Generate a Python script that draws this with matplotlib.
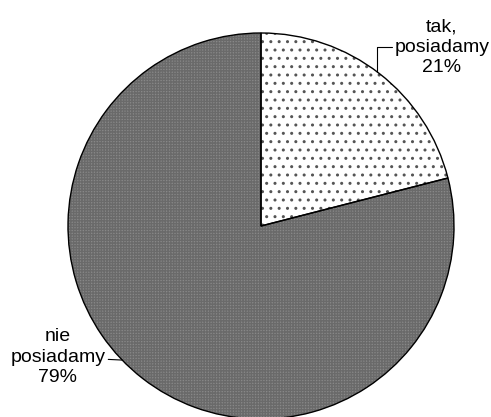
import matplotlib.pyplot as plt
import numpy as np

labels = ['tak,\nposiadamy\n21%', 'nie\nposiadamy\n79%']
values = [21, 79]

plt.rcParams['font.family'] = ['Liberation Sans', 'DejaVu Sans']

fig = plt.figure(figsize=(4.91, 4.17), dpi=100)
ax = fig.add_axes([0, 0, 1, 1])

cx, cy, r = 261, 191, 193

# fills with texture
wedges, _ = ax.pie(values, startangle=90, counterclock=False, radius=r,
                   center=(cx, cy), colors=['white', '#888888'], frame=True,
                   wedgeprops=dict(linewidth=0))
wedges[0].set_hatch('..')
wedges[0].set_edgecolor('#555555')
wedges[1].set_hatch('++++++')
wedges[1].set_edgecolor('#6a6a6a')

# outlines
ax.pie(values, startangle=90, counterclock=False, radius=r,
       center=(cx, cy), colors=['none', 'none'], frame=True,
       wedgeprops=dict(linewidth=1.0, edgecolor='black'))
ax.set_xlim(0, 491)
ax.set_ylim(0, 417)
ax.set_aspect('equal')
ax.axis('off')

def edge(angle_deg):
    a = np.deg2rad(angle_deg)
    return cx + r * np.sin(a), cy + r * np.cos(a)

# tak label with elbow leader
p = edge(37)
ax.annotate(labels[0], xy=p, xytext=(442, 370), ha='center', va='center',
            fontsize=14, linespacing=1.25,
            arrowprops=dict(arrowstyle='-', color='black', lw=0.8,
                            shrinkA=0, shrinkB=0,
                            connectionstyle='angle,angleA=180,angleB=90,rad=0'))

p = edge(226)
ax.annotate(labels[1], xy=p, xytext=(58, 60), ha='center', va='center',
            fontsize=14, linespacing=1.25,
            arrowprops=dict(arrowstyle='-', color='black', lw=0.8,
                            shrinkA=0, shrinkB=0))

fig.savefig('out.png', dpi=100)
